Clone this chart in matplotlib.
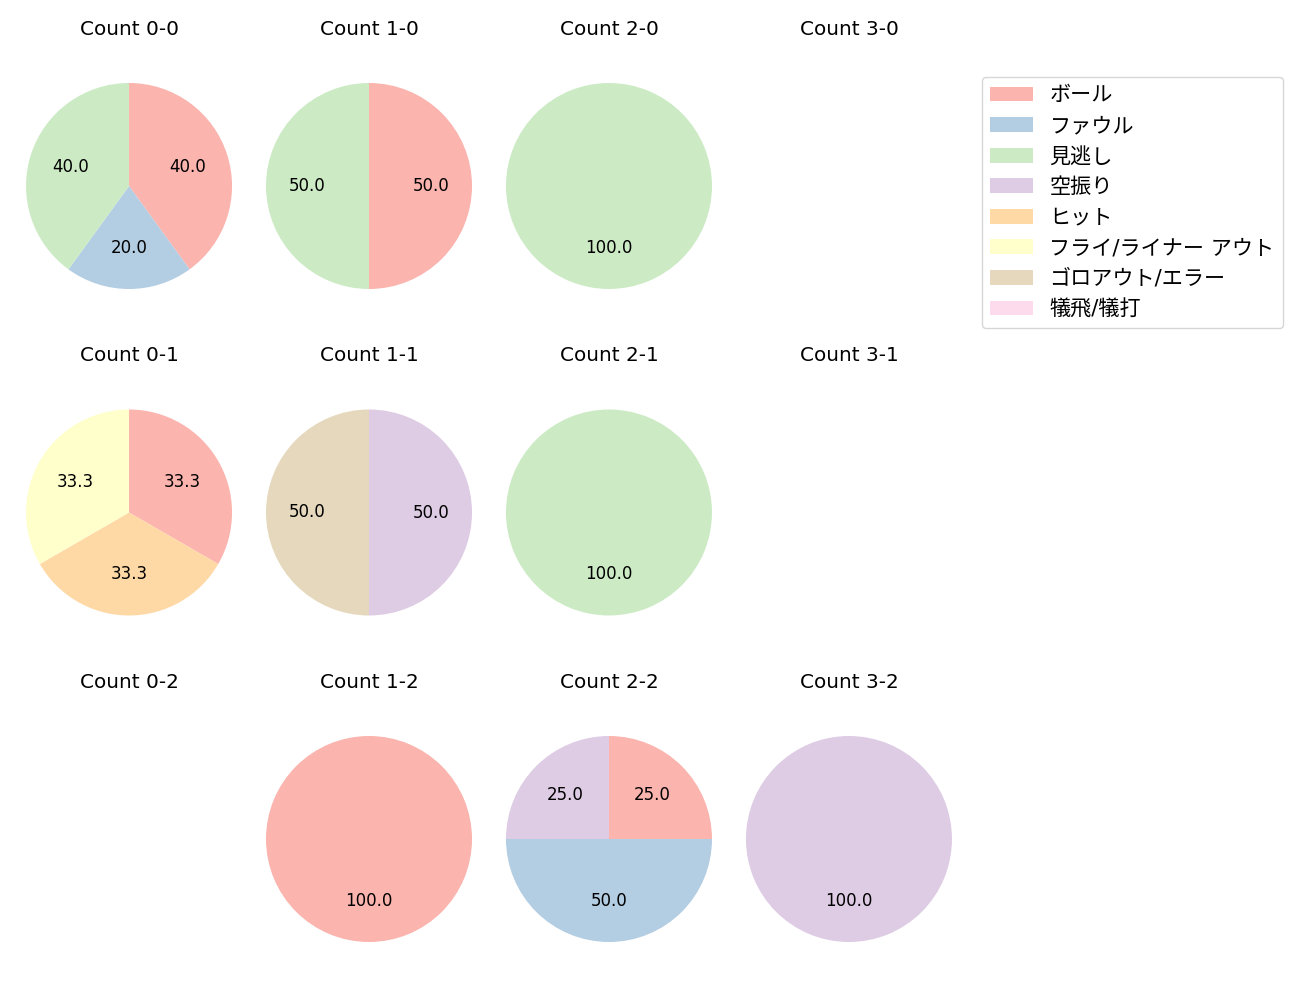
import matplotlib
matplotlib.use('Agg')
import matplotlib.pyplot as plt
from matplotlib.patches import Patch

plt.rcParams['font.family'] = ['DejaVu Sans', 'Noto Sans CJK JP']

# result categories (legend order)
categories = ['ボール', 'ファウル', '見逃し', '空振り', 'ヒット',
              'フライ/ライナー アウト', 'ゴロアウト/エラー', '犠飛/犠打']

# counts per ball-strike situation, same order as categories
balls = [0, 1, 2, 3]
strikes = [0, 1, 2]
counts = {
    (0, 0): [2, 1, 2, 0, 0, 0, 0, 0],
    (1, 0): [1, 0, 1, 0, 0, 0, 0, 0],
    (2, 0): [0, 0, 1, 0, 0, 0, 0, 0],
    (3, 0): [0, 0, 0, 0, 0, 0, 0, 0],
    (0, 1): [1, 0, 0, 0, 1, 1, 0, 0],
    (1, 1): [0, 0, 0, 1, 0, 0, 1, 0],
    (2, 1): [0, 0, 1, 0, 0, 0, 0, 0],
    (3, 1): [0, 0, 0, 0, 0, 0, 0, 0],
    (0, 2): [0, 0, 0, 0, 0, 0, 0, 0],
    (1, 2): [1, 0, 0, 0, 0, 0, 0, 0],
    (2, 2): [1, 2, 0, 1, 0, 0, 0, 0],
    (3, 2): [0, 0, 0, 1, 0, 0, 0, 0],
}

colors = plt.cm.Pastel1.colors[:len(categories)]

fig, axes = plt.subplots(3, 4, figsize=(13, 10))
fig.subplots_adjust(left=0.0121, right=0.7402, top=0.957, bottom=0.018,
                    wspace=0.059, hspace=0.1416)

for s in strikes:
    for b in balls:
        ax = axes[s][b]
        vals = counts[(b, s)]
        ax.set_title(f'Count {b}-{s}', fontsize=14.4)
        if sum(vals) == 0:
            ax.axis('off')
            continue
        idx = [i for i, v in enumerate(vals) if v > 0]
        ax.pie([vals[i] for i in idx],
               colors=[colors[i] for i in idx],
               autopct='%.1f', startangle=90, counterclock=False,
               textprops={'fontsize': 12})
        ax.set_xlim(-1.1, 1.1)
        ax.set_ylim(-1.1, 1.1)
        ax.set_aspect('equal', adjustable='datalim')

handles = [Patch(facecolor=c, label=l) for c, l in zip(colors, categories)]
fig.legend(handles=handles, loc='upper left', bbox_to_anchor=(0.7472, 0.9336),
           fontsize=15.2)

plt.savefig('out.png', dpi=100)
